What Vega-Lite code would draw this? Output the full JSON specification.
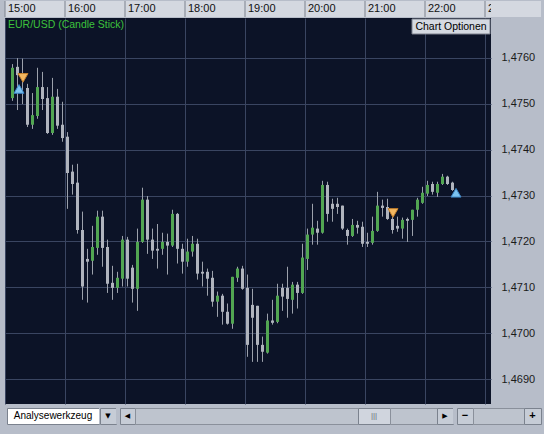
{
  "$schema": "https://vega.github.io/schema/vega-lite/v6.json",
  "background": "#b7bdc9",
  "padding": {"left": 4, "top": 0, "right": 4, "bottom": 10},
  "config": {"view": {"stroke": null}, "font": "Liberation Sans"},
  "datasets": {
    "hourmarks": [
      {"hr": "2009-06-15T15:00Z"}, {"hr": "2009-06-15T16:00Z"}, {"hr": "2009-06-15T17:00Z"},
      {"hr": "2009-06-15T18:00Z"}, {"hr": "2009-06-15T19:00Z"}, {"hr": "2009-06-15T20:00Z"},
      {"hr": "2009-06-15T21:00Z"}, {"hr": "2009-06-15T22:00Z"}, {"hr": "2009-06-15T23:00Z"}
    ],
    "trades": [
      {"t": "2009-06-15T15:18Z", "p": 1.47556, "s": "sell"},
      {"t": "2009-06-15T15:14Z", "p": 1.47532, "s": "buy"},
      {"t": "2009-06-15T21:28Z", "p": 1.47262, "s": "sell"},
      {"t": "2009-06-15T22:31Z", "p": 1.47306, "s": "buy"}
    ],
    "bars": [
      {"t": "2009-06-15T15:05Z", "o": 1.47512, "h": 1.47586, "l": 1.47506, "c": 1.47578},
      {"t": "2009-06-15T15:10Z", "o": 1.47580, "h": 1.47599, "l": 1.47486, "c": 1.47562},
      {"t": "2009-06-15T15:15Z", "o": 1.47562, "h": 1.47598, "l": 1.47499, "c": 1.47552},
      {"t": "2009-06-15T15:20Z", "o": 1.47534, "h": 1.47543, "l": 1.47449, "c": 1.47454},
      {"t": "2009-06-15T15:25Z", "o": 1.47454, "h": 1.47523, "l": 1.47445, "c": 1.47475},
      {"t": "2009-06-15T15:30Z", "o": 1.47473, "h": 1.47578, "l": 1.47467, "c": 1.47536},
      {"t": "2009-06-15T15:35Z", "o": 1.47536, "h": 1.47569, "l": 1.47486, "c": 1.47510},
      {"t": "2009-06-15T15:40Z", "o": 1.47512, "h": 1.47536, "l": 1.47434, "c": 1.47436},
      {"t": "2009-06-15T15:45Z", "o": 1.47436, "h": 1.47556, "l": 1.47432, "c": 1.47515},
      {"t": "2009-06-15T15:50Z", "o": 1.47515, "h": 1.47532, "l": 1.47445, "c": 1.47452},
      {"t": "2009-06-15T15:55Z", "o": 1.47454, "h": 1.47504, "l": 1.47417, "c": 1.47425},
      {"t": "2009-06-15T16:00Z", "o": 1.47428, "h": 1.47438, "l": 1.47271, "c": 1.47349},
      {"t": "2009-06-15T16:05Z", "o": 1.47352, "h": 1.47367, "l": 1.47302, "c": 1.47325},
      {"t": "2009-06-15T16:10Z", "o": 1.47328, "h": 1.47369, "l": 1.47217, "c": 1.47225},
      {"t": "2009-06-15T16:15Z", "o": 1.47225, "h": 1.47265, "l": 1.47073, "c": 1.47102},
      {"t": "2009-06-15T16:20Z", "o": 1.47162, "h": 1.47184, "l": 1.47067, "c": 1.47156},
      {"t": "2009-06-15T16:25Z", "o": 1.47158, "h": 1.47234, "l": 1.47128, "c": 1.47188},
      {"t": "2009-06-15T16:30Z", "o": 1.47186, "h": 1.47267, "l": 1.47171, "c": 1.47254},
      {"t": "2009-06-15T16:35Z", "o": 1.47254, "h": 1.47267, "l": 1.47145, "c": 1.47186},
      {"t": "2009-06-15T16:40Z", "o": 1.47188, "h": 1.47204, "l": 1.47088, "c": 1.47108},
      {"t": "2009-06-15T16:45Z", "o": 1.47110, "h": 1.47147, "l": 1.47073, "c": 1.47099},
      {"t": "2009-06-15T16:50Z", "o": 1.47099, "h": 1.47134, "l": 1.47088, "c": 1.47121},
      {"t": "2009-06-15T16:55Z", "o": 1.47119, "h": 1.47212, "l": 1.47102, "c": 1.47204},
      {"t": "2009-06-15T17:00Z", "o": 1.47204, "h": 1.47210, "l": 1.47102, "c": 1.47119},
      {"t": "2009-06-15T17:05Z", "o": 1.47143, "h": 1.47149, "l": 1.47067, "c": 1.47097},
      {"t": "2009-06-15T17:10Z", "o": 1.47097, "h": 1.47228, "l": 1.47049, "c": 1.47199},
      {"t": "2009-06-15T17:15Z", "o": 1.47199, "h": 1.47317, "l": 1.47197, "c": 1.47291},
      {"t": "2009-06-15T17:20Z", "o": 1.47291, "h": 1.47299, "l": 1.47173, "c": 1.47204},
      {"t": "2009-06-15T17:25Z", "o": 1.47204, "h": 1.47228, "l": 1.47162, "c": 1.47180},
      {"t": "2009-06-15T17:30Z", "o": 1.47184, "h": 1.47238, "l": 1.47141, "c": 1.47180},
      {"t": "2009-06-15T17:35Z", "o": 1.47184, "h": 1.47219, "l": 1.47171, "c": 1.47199},
      {"t": "2009-06-15T17:40Z", "o": 1.47199, "h": 1.47217, "l": 1.47128, "c": 1.47191},
      {"t": "2009-06-15T17:45Z", "o": 1.47191, "h": 1.47269, "l": 1.47188, "c": 1.47260},
      {"t": "2009-06-15T17:50Z", "o": 1.47260, "h": 1.47262, "l": 1.47152, "c": 1.47184},
      {"t": "2009-06-15T17:55Z", "o": 1.47184, "h": 1.47195, "l": 1.47130, "c": 1.47156},
      {"t": "2009-06-15T18:00Z", "o": 1.47156, "h": 1.47206, "l": 1.47145, "c": 1.47178},
      {"t": "2009-06-15T18:05Z", "o": 1.47178, "h": 1.47212, "l": 1.47167, "c": 1.47195},
      {"t": "2009-06-15T18:10Z", "o": 1.47195, "h": 1.47206, "l": 1.47117, "c": 1.47130},
      {"t": "2009-06-15T18:15Z", "o": 1.47134, "h": 1.47156, "l": 1.47102, "c": 1.47130},
      {"t": "2009-06-15T18:20Z", "o": 1.47134, "h": 1.47141, "l": 1.47082, "c": 1.47119},
      {"t": "2009-06-15T18:25Z", "o": 1.47121, "h": 1.47136, "l": 1.47058, "c": 1.47069},
      {"t": "2009-06-15T18:30Z", "o": 1.47069, "h": 1.47091, "l": 1.47036, "c": 1.47082},
      {"t": "2009-06-15T18:35Z", "o": 1.47082, "h": 1.47086, "l": 1.47019, "c": 1.47047},
      {"t": "2009-06-15T18:40Z", "o": 1.47047, "h": 1.47065, "l": 1.47019, "c": 1.47021},
      {"t": "2009-06-15T18:45Z", "o": 1.47021, "h": 1.47123, "l": 1.47010, "c": 1.47123},
      {"t": "2009-06-15T18:50Z", "o": 1.47121, "h": 1.47145, "l": 1.47112, "c": 1.47141},
      {"t": "2009-06-15T18:55Z", "o": 1.47141, "h": 1.47147, "l": 1.47095, "c": 1.47097},
      {"t": "2009-06-15T19:00Z", "o": 1.47099, "h": 1.47128, "l": 1.46949, "c": 1.46975},
      {"t": "2009-06-15T19:05Z", "o": 1.47062, "h": 1.47097, "l": 1.46938, "c": 1.47034},
      {"t": "2009-06-15T19:10Z", "o": 1.47060, "h": 1.47060, "l": 1.46938, "c": 1.46975},
      {"t": "2009-06-15T19:15Z", "o": 1.46975, "h": 1.46993, "l": 1.46938, "c": 1.46960},
      {"t": "2009-06-15T19:20Z", "o": 1.46958, "h": 1.47043, "l": 1.46956, "c": 1.47028},
      {"t": "2009-06-15T19:25Z", "o": 1.47028, "h": 1.47073, "l": 1.47019, "c": 1.47023},
      {"t": "2009-06-15T19:30Z", "o": 1.47025, "h": 1.47108, "l": 1.47022, "c": 1.47082},
      {"t": "2009-06-15T19:35Z", "o": 1.47099, "h": 1.47108, "l": 1.47049, "c": 1.47080},
      {"t": "2009-06-15T19:40Z", "o": 1.47099, "h": 1.47145, "l": 1.47034, "c": 1.47075},
      {"t": "2009-06-15T19:45Z", "o": 1.47073, "h": 1.47112, "l": 1.47043, "c": 1.47106},
      {"t": "2009-06-15T19:50Z", "o": 1.47106, "h": 1.47112, "l": 1.47054, "c": 1.47088},
      {"t": "2009-06-15T19:55Z", "o": 1.47088, "h": 1.47195, "l": 1.47086, "c": 1.47165},
      {"t": "2009-06-15T20:00Z", "o": 1.47162, "h": 1.47228, "l": 1.47138, "c": 1.47215},
      {"t": "2009-06-15T20:05Z", "o": 1.47215, "h": 1.47282, "l": 1.47193, "c": 1.47230},
      {"t": "2009-06-15T20:10Z", "o": 1.47228, "h": 1.47245, "l": 1.47193, "c": 1.47219},
      {"t": "2009-06-15T20:15Z", "o": 1.47219, "h": 1.47332, "l": 1.47217, "c": 1.47323},
      {"t": "2009-06-15T20:20Z", "o": 1.47323, "h": 1.47330, "l": 1.47243, "c": 1.47260},
      {"t": "2009-06-15T20:25Z", "o": 1.47282, "h": 1.47293, "l": 1.47243, "c": 1.47271},
      {"t": "2009-06-15T20:30Z", "o": 1.47282, "h": 1.47295, "l": 1.47260, "c": 1.47275},
      {"t": "2009-06-15T20:35Z", "o": 1.47278, "h": 1.47278, "l": 1.47225, "c": 1.47228},
      {"t": "2009-06-15T20:40Z", "o": 1.47225, "h": 1.47228, "l": 1.47193, "c": 1.47212},
      {"t": "2009-06-15T20:45Z", "o": 1.47212, "h": 1.47249, "l": 1.47210, "c": 1.47236},
      {"t": "2009-06-15T20:50Z", "o": 1.47236, "h": 1.47245, "l": 1.47217, "c": 1.47230},
      {"t": "2009-06-15T20:55Z", "o": 1.47232, "h": 1.47243, "l": 1.47188, "c": 1.47195},
      {"t": "2009-06-15T21:00Z", "o": 1.47199, "h": 1.47219, "l": 1.47188, "c": 1.47195},
      {"t": "2009-06-15T21:05Z", "o": 1.47197, "h": 1.47254, "l": 1.47193, "c": 1.47223},
      {"t": "2009-06-15T21:10Z", "o": 1.47223, "h": 1.47308, "l": 1.47221, "c": 1.47278},
      {"t": "2009-06-15T21:15Z", "o": 1.47278, "h": 1.47291, "l": 1.47254, "c": 1.47273},
      {"t": "2009-06-15T21:20Z", "o": 1.47275, "h": 1.47293, "l": 1.47247, "c": 1.47249},
      {"t": "2009-06-15T21:25Z", "o": 1.47249, "h": 1.47254, "l": 1.47217, "c": 1.47225},
      {"t": "2009-06-15T21:30Z", "o": 1.47234, "h": 1.47254, "l": 1.47221, "c": 1.47228},
      {"t": "2009-06-15T21:35Z", "o": 1.47228, "h": 1.47252, "l": 1.47206, "c": 1.47247},
      {"t": "2009-06-15T21:40Z", "o": 1.47249, "h": 1.47252, "l": 1.47199, "c": 1.47245},
      {"t": "2009-06-15T21:45Z", "o": 1.47247, "h": 1.47269, "l": 1.47212, "c": 1.47269},
      {"t": "2009-06-15T21:50Z", "o": 1.47269, "h": 1.47295, "l": 1.47254, "c": 1.47291},
      {"t": "2009-06-15T21:55Z", "o": 1.47284, "h": 1.47319, "l": 1.47282, "c": 1.47306},
      {"t": "2009-06-15T22:00Z", "o": 1.47304, "h": 1.47332, "l": 1.47299, "c": 1.47323},
      {"t": "2009-06-15T22:05Z", "o": 1.47325, "h": 1.47330, "l": 1.47302, "c": 1.47308},
      {"t": "2009-06-15T22:10Z", "o": 1.47306, "h": 1.47330, "l": 1.47297, "c": 1.47325},
      {"t": "2009-06-15T22:15Z", "o": 1.47325, "h": 1.47347, "l": 1.47323, "c": 1.47341},
      {"t": "2009-06-15T22:20Z", "o": 1.47341, "h": 1.47343, "l": 1.47323, "c": 1.47325},
      {"t": "2009-06-15T22:25Z", "o": 1.47328, "h": 1.47330, "l": 1.47310, "c": 1.47312}
    ]
  },
  "spacing": 3,
  "vconcat": [
    {
      "spacing": 0,
      "vconcat": [
        {
          "spacing": 0,
          "bounds": "flush",
          "hconcat": [
            {
              "width": 486,
              "height": 16,
              "view": {"fill": "#d4d8e0", "stroke": null},
              "data": {"name": "hourmarks"},
              "layer": [
                {
                  "mark": {"type": "rule", "color": "#7c828e", "strokeWidth": 1},
                  "encoding": {
                    "x": {"field": "hr", "type": "temporal", "axis": null,
                      "scale": {"type": "utc", "domain": [
                        {"year": 2009, "month": 6, "date": 15, "hours": 15, "minutes": 0, "utc": true},
                        {"year": 2009, "month": 6, "date": 15, "hours": 23, "minutes": 6, "utc": true}]}}
                  }
                },
                {
                  "mark": {"type": "text", "align": "left", "baseline": "middle", "dx": 3, "fontSize": 11, "color": "#101010", "clip": true},
                  "encoding": {
                    "x": {"field": "hr", "type": "temporal", "axis": null},
                    "text": {"field": "hr", "type": "temporal", "timeUnit": "utchoursminutes", "format": "%H:%M"}
                  }
                }
              ]
            },
            {
              "width": 50,
              "height": 16,
              "view": {"fill": "#d4d8e0", "stroke": null},
              "data": {"values": [{"label": ""}]},
              "mark": {"type": "text"},
              "encoding": {"text": {"field": "label"}}
            }
          ]
        },
        {
          "width": 486,
          "height": 386,
          "view": {"fill": "#0c1327", "stroke": null},
          "title": {"text": "EUR/USD (Candle Stick)", "anchor": "start", "offset": -12.5, "color": "#3cc23c", "font": "Liberation Sans", "fontSize": 10.5, "fontWeight": "normal", "dx": 3},
          "layer": [
            {
              "data": {"name": "bars"},
              "mark": {"type": "rule", "color": "#9ca1ab", "strokeWidth": 1, "xOffset": 2.5},
              "encoding": {
                "x": {"field": "t", "type": "temporal",
                  "scale": {"type": "utc", "domain": [
                    {"year": 2009, "month": 6, "date": 15, "hours": 15, "minutes": 0, "utc": true},
                    {"year": 2009, "month": 6, "date": 15, "hours": 23, "minutes": 6, "utc": true}]},
                  "axis": {"orient": "top", "grid": true, "gridColor": "#3a4561", "labels": false, "ticks": false, "domain": false, "title": null, "tickCount": 9}},
                "y": {"field": "l", "type": "quantitative",
                  "scale": {"domain": [1.468463, 1.476863], "zero": false, "nice": false},
                  "axis": {"orient": "right", "values": [1.469, 1.470, 1.471, 1.472, 1.473, 1.474, 1.475, 1.476], "grid": true, "gridColor": "#3a4561", "ticks": false, "domain": false, "title": null,
                    "labelExpr": "replace(format(datum.value, '.4f'), '.', ',')", "labelAlign": "left", "labelPadding": 10, "labelFont": "Liberation Sans", "labelFontSize": 11, "labelColor": "#1a1a1a"}},
                "y2": {"field": "h"}
              }
            },
            {
              "data": {"name": "bars"},
              "mark": {"type": "rule", "strokeWidth": 3, "xOffset": 2.5},
              "encoding": {
                "x": {"field": "t", "type": "temporal"},
                "y": {"field": "o", "type": "quantitative"},
                "y2": {"field": "c"},
                "color": {"condition": {"test": "datum.c > datum.o", "value": "#52a652"}, "value": "#b0b4bd"}
              }
            },
            {
              "data": {"name": "trades"},
              "mark": {"type": "point", "filled": true, "size": 100, "strokeWidth": 1, "opacity": 1},
              "encoding": {
                "x": {"field": "t", "type": "temporal"},
                "y": {"field": "p", "type": "quantitative"},
                "shape": {"field": "s", "type": "nominal", "scale": {"domain": ["buy", "sell"], "range": ["triangle-up", "triangle-down"]}, "legend": null},
                "fill": {"field": "s", "type": "nominal", "scale": {"domain": ["buy", "sell"], "range": ["#7cc3f0", "#f3b861"]}, "legend": null},
                "stroke": {"field": "s", "type": "nominal", "scale": {"domain": ["buy", "sell"], "range": ["#3d88c9", "#c47f2c"]}, "legend": null}
              }
            },
            {
              "data": {"values": [{"label": "Chart Optionen"}]},
              "mark": {"type": "rect", "fill": "#d5d9e1", "stroke": "#7d838f", "strokeWidth": 1},
              "encoding": {
                "x": {"datum": {"year": 2009, "month": 6, "date": 15, "hours": 21, "minutes": 47, "utc": true}, "type": "temporal"},
                "x2": {"datum": {"year": 2009, "month": 6, "date": 15, "hours": 23, "minutes": 5, "utc": true}},
                "y": {"datum": 1.476841, "type": "quantitative"},
                "y2": {"datum": 1.476515}
              }
            },
            {
              "data": {"values": [{"label": "Chart Optionen"}]},
              "mark": {"type": "text", "fontSize": 10.5, "color": "#000000", "baseline": "middle"},
              "encoding": {
                "x": {"datum": {"year": 2009, "month": 6, "date": 15, "hours": 22, "minutes": 26, "utc": true}, "type": "temporal"},
                "y": {"datum": 1.476678, "type": "quantitative"},
                "text": {"field": "label"}
              }
            }
          ]
        }
      ]
    },
    {
      "spacing": 0,
      "bounds": "flush",
      "hconcat": [
        {"width": 2, "height": 16, "view": {"fill": "#b7bdc9", "stroke": null}, "data": {"values": [{"label": ""}]}, "mark": {"type": "text"}, "encoding": {"text": {"field": "label"}}},
        {"width": 92, "height": 16, "view": {"fill": "#ffffff", "stroke": "#7b828e"}, "data": {"values": [{"label": "Analysewerkzeug"}]}, "mark": {"type": "text", "fontSize": 10, "color": "#000000"}, "encoding": {"text": {"field": "label"}}},
        {"width": 1, "height": 16, "view": {"fill": "#b7bdc9", "stroke": null}, "data": {"values": [{"label": ""}]}, "mark": {"type": "text"}, "encoding": {"text": {"field": "label"}}},
        {"width": 16, "height": 16, "view": {"fill": "#c6ccd6", "stroke": "#7b828e"}, "data": {"values": [{"label": "▼"}]}, "mark": {"type": "text", "font": "DejaVu Sans", "fontSize": 7, "color": "#000000"}, "encoding": {"text": {"field": "label"}}},
        {"width": 4, "height": 16, "view": {"fill": "#b7bdc9", "stroke": null}, "data": {"values": [{"label": ""}]}, "mark": {"type": "text"}, "encoding": {"text": {"field": "label"}}},
        {"width": 15, "height": 16, "view": {"fill": "#c6ccd6", "stroke": "#7b828e"}, "data": {"values": [{"label": "◀"}]}, "mark": {"type": "text", "font": "DejaVu Sans", "fontSize": 7, "color": "#000000"}, "encoding": {"text": {"field": "label"}}},
        {"width": 223, "height": 16, "view": {"fill": "#bec4ce", "stroke": "#8a909b"}, "data": {"values": [{"label": ""}]}, "mark": {"type": "text"}, "encoding": {"text": {"field": "label"}}},
        {"width": 32, "height": 16, "view": {"fill": "#d0d5de", "stroke": "#7b828e"}, "data": {"values": [{"label": "|||"}]}, "mark": {"type": "text", "fontSize": 8, "color": "#6a6f78"}, "encoding": {"text": {"field": "label"}}},
        {"width": 47, "height": 16, "view": {"fill": "#bec4ce", "stroke": "#8a909b"}, "data": {"values": [{"label": ""}]}, "mark": {"type": "text"}, "encoding": {"text": {"field": "label"}}},
        {"width": 16, "height": 16, "view": {"fill": "#c6ccd6", "stroke": "#7b828e"}, "data": {"values": [{"label": "▶"}]}, "mark": {"type": "text", "font": "DejaVu Sans", "fontSize": 7, "color": "#000000"}, "encoding": {"text": {"field": "label"}}},
        {"width": 4, "height": 16, "view": {"fill": "#b7bdc9", "stroke": null}, "data": {"values": [{"label": ""}]}, "mark": {"type": "text"}, "encoding": {"text": {"field": "label"}}},
        {"width": 16, "height": 16, "view": {"fill": "#c6ccd6", "stroke": "#7b828e"}, "data": {"values": [{"label": "−"}]}, "mark": {"type": "text", "fontSize": 11, "fontWeight": "bold", "color": "#000000"}, "encoding": {"text": {"field": "label"}}},
        {"width": 51, "height": 16, "view": {"fill": "#bec4ce", "stroke": "#8a909b"}, "data": {"values": [{"label": ""}]}, "mark": {"type": "text"}, "encoding": {"text": {"field": "label"}}},
        {"width": 17, "height": 16, "view": {"fill": "#c6ccd6", "stroke": "#7b828e"}, "data": {"values": [{"label": "+"}]}, "mark": {"type": "text", "fontSize": 11, "fontWeight": "bold", "color": "#000000"}, "encoding": {"text": {"field": "label"}}}
      ]
    }
  ]
}
